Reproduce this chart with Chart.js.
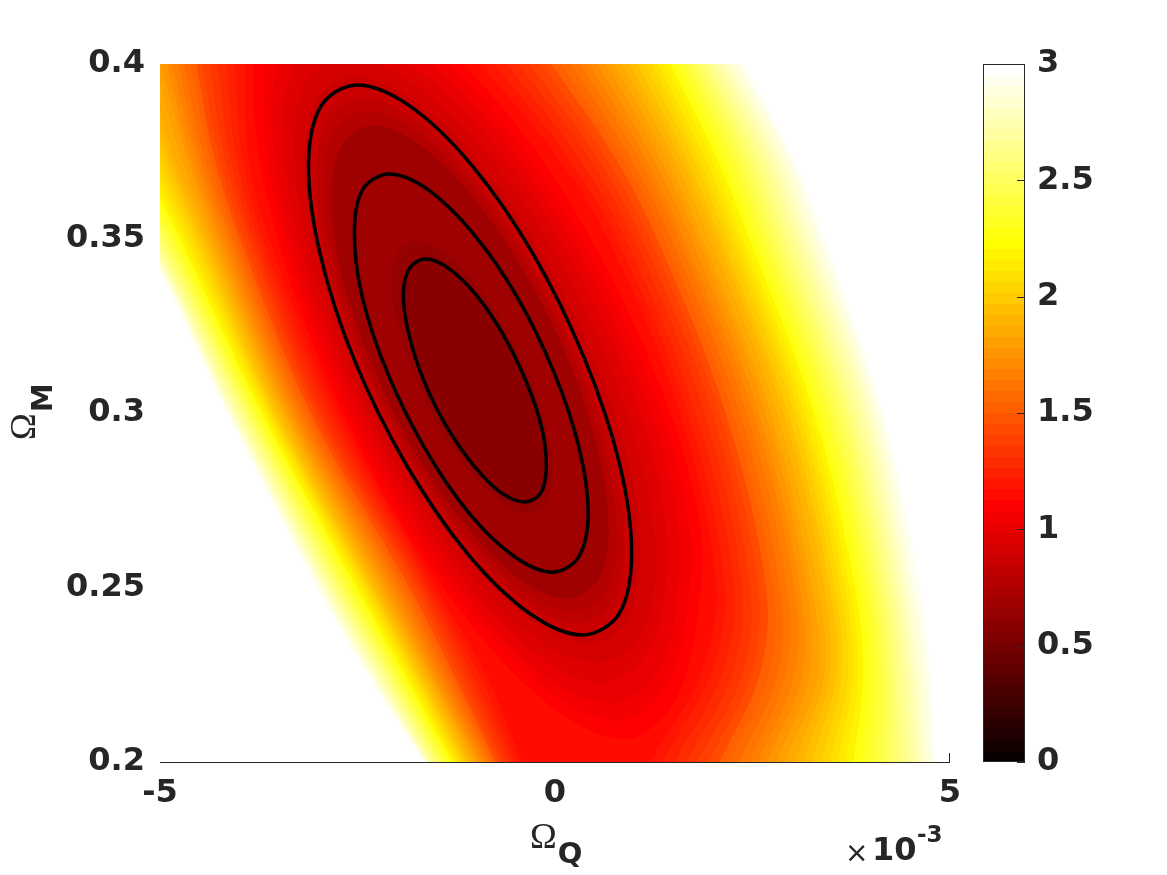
<!DOCTYPE html>
<html>
<head>
<meta charset="utf-8">
<script src="https://cdn.jsdelivr.net/npm/chart.js@4.4.1/dist/chart.umd.min.js"></script>
<style>
  body { margin: 0; background: #fff; }
  #wrap { position: relative; width: 1167px; height: 875px; }
  canvas { position: absolute; top: 0; }
</style>
</head>
<body>
<div id="wrap">
  <canvas id="main" width="1167" height="875" style="left:0"></canvas>
  <canvas id="cbar" width="207" height="875" style="left:960px"></canvas>
</div>
<script>
/* ---------- ticks ---------- */
const xTicks = [-5, 0, 5];               // Omega_Q in units of 1e-3
const yTicks = [0.2, 0.25, 0.3, 0.35, 0.4];
const yTickLabels = ['0.2', '0.25', '0.3', '0.35', '0.4'];
const cbarTicks = [0, 0.5, 1, 1.5, 2, 2.5, 3];
const cbarLabels = ['0', '0.5', '1', '1.5', '2', '2.5', '3'];

/* ---------- filled contours, levels every 0.05 ---------- */
// closed level curves round the minimum, [OmegaQ (1e-3), OmegaM]
const ring065 = [[-0.38,0.2746],[-0.19,0.2773],[-0.11,0.2848],[-0.18,0.2961],[-0.37,0.3093],[-0.66,0.3226],[-1.00,0.3338],[-1.35,0.3414],
  [-1.64,0.3440],[-1.84,0.3414],[-1.91,0.3338],[-1.85,0.3226],[-1.66,0.3093],[-1.37,0.2961],[-1.02,0.2848],[-0.68,0.2773]];
const ring070 = [[-0.34,0.2713],[-0.12,0.2743],[-0.04,0.2827],[-0.11,0.2954],[-0.33,0.3103],[-0.65,0.3252],[-1.04,0.3379],[-1.43,0.3464],
  [-1.76,0.3493],[-1.98,0.3464],[-2.06,0.3379],[-1.99,0.3252],[-1.77,0.3103],[-1.45,0.2954],[-1.06,0.2827],[-0.67,0.2743]];
const ring075 = [[0.15,0.2468],[0.54,0.2520],[0.68,0.2667],[0.55,0.2887],[0.18,0.3146],[-0.39,0.3405],[-1.06,0.3625],[-1.73,0.3772],
  [-2.31,0.3824],[-2.69,0.3772],[-2.83,0.3625],[-2.71,0.3405],[-2.33,0.3146],[-1.77,0.2887],[-1.09,0.2667],[-0.42,0.2520]];
const ring080 = [[0.23,0.2432],[0.64,0.2486],[0.78,0.2642],[0.65,0.2875],[0.25,0.3149],[-0.35,0.3423],[-1.06,0.3656],[-1.77,0.3812],
  [-2.38,0.3866],[-2.79,0.3812],[-2.94,0.3656],[-2.80,0.3423],[-2.41,0.3149],[-1.81,0.2875],[-1.10,0.2642],[-0.38,0.2486]];
const ring085 = [[0.29,0.2398],[0.72,0.2455],[0.88,0.2618],[0.73,0.2863],[0.32,0.3150],[-0.31,0.3438],[-1.06,0.3683],[-1.80,0.3846],
  [-2.44,0.3903],[-2.87,0.3846],[-3.03,0.3683],[-2.89,0.3438],[-2.47,0.3150],[-1.84,0.2863],[-1.10,0.2618],[-0.35,0.2455]];
const ring090 = [[0.40,0.2340],[0.88,0.2397],[1.08,0.2564],[0.96,0.2829],[0.50,0.3152],[-0.22,0.3475],[-1.05,0.3740],[-1.87,0.3907],
  [-2.55,0.3964],[-3.01,0.3901],[-3.17,0.3723],[-3.01,0.3460],[-2.57,0.3152],[-1.90,0.2844],[-1.10,0.2581],[-0.29,0.2403]];
const ring095 = [[0.50,0.2285],[1.02,0.2341],[1.26,0.2514],[1.16,0.2797],[0.66,0.3152],[-0.13,0.3507],[-1.05,0.3790],[-1.92,0.3962],
  [-2.65,0.4019],[-3.14,0.3951],[-3.30,0.3759],[-3.13,0.3478],[-2.65,0.3152],[-1.94,0.2825],[-1.10,0.2544],[-0.24,0.2353]];
const ring100 = [[0.60,0.2226],[1.13,0.2300],[1.39,0.2480],[1.35,0.2766],[0.82,0.3152],[-0.05,0.3538],[-1.05,0.3842],[-1.99,0.4021],
  [-2.76,0.4078],[-3.28,0.4004],[-3.44,0.3797],[-3.25,0.3497],[-2.74,0.3152],[-1.99,0.2807],[-1.10,0.2507],[-0.18,0.2300]];
const ring105 = [[0.71,0.2167],[1.26,0.2249],[1.53,0.2441],[1.52,0.2739],[0.95,0.3152],[0.02,0.3565],[-1.05,0.3888],[-2.04,0.4077],
  [-2.86,0.4137],[-3.41,0.4057],[-3.58,0.3835],[-3.37,0.3516],[-2.83,0.3152],[-2.04,0.2788],[-1.10,0.2469],[-0.13,0.2247]];
const ring110 = [[0.81,0.2116],[1.37,0.2205],[1.66,0.2405],[1.68,0.2713],[1.09,0.3152],[0.09,0.3591],[-1.05,0.3931],[-2.10,0.4127],
  [-2.96,0.4188],[-3.53,0.4103],[-3.70,0.3868],[-3.47,0.3533],[-2.91,0.3152],[-2.09,0.2771],[-1.10,0.2436],[-0.08,0.2201]];
const ring115 = [[0.90,0.2065],[1.48,0.2162],[1.78,0.2373],[1.83,0.2690],[1.20,0.3152],[0.16,0.3614],[-1.04,0.3971],[-2.15,0.4176],
  [-3.05,0.4239],[-3.65,0.4149],[-3.82,0.3900],[-3.57,0.3549],[-2.98,0.3152],[-2.13,0.2755],[-1.10,0.2404],[-0.03,0.2155]];
const ringLevels = [0.65, 0.7, 0.75, 0.8, 0.85, 0.9, 0.95, 1.0, 1.05, 1.1, 1.15];

// outer levels: where each level crosses rows of constant OmegaM (left and right branch)
const arcLevels = [1.2,1.25,1.3,1.35,1.4,1.45,1.5,1.55,1.6,1.65,1.7,1.75,1.8,1.85,1.9,1.95,2.0,2.05,2.1,2.15,
  2.2,2.25,2.3,2.35,2.4,2.45,2.5,2.55,2.6,2.65,2.7,2.75,2.8,2.85,2.9,2.95,3.0];
const arcRows = [0.4, 0.375, 0.35, 0.3, 0.25, 0.225, 0.2];
const leftAt040  = [-3.92,-4.05,-4.16,-4.27,-4.37,-4.46,-4.54,-4.62,-4.70,-4.77,-4.85,-4.91,-4.99,-5.06,-5.15,-5.24,-5.33,-5.43,-5.53,-5.63,
  -5.75,-5.85,-5.96,-6.08,-6.19,-6.30,-6.42,-6.53,-6.65,-6.76,-6.87,-6.99,-7.10,-7.22,-7.33,-7.44,-7.56];
const leftAt0375 = [-3.89,-3.97,-4.05,-4.13,-4.20,-4.27,-4.33,-4.39,-4.46,-4.52,-4.57,-4.63,-4.68,-4.76,-4.85,-4.91,-4.97,-5.04,-5.11,-5.18,
  -5.24,-5.30,-5.37,-5.43,-5.51,-5.57,-5.63,-5.70,-5.76,-5.82,-5.89,-5.96,-6.03,-6.09,-6.15,-6.22,-6.28];
const leftAt035  = [-3.62,-3.70,-3.76,-3.82,-3.87,-3.94,-3.99,-4.04,-4.09,-4.14,-4.19,-4.24,-4.29,-4.34,-4.39,-4.44,-4.49,-4.54,-4.59,-4.65,
  -4.70,-4.75,-4.78,-4.84,-4.87,-4.91,-4.95,-4.99,-5.03,-5.06,-5.09,-5.13,-5.15,-5.18,-5.20,-5.23,-5.25];
const leftAt030  = [-2.75,-2.81,-2.87,-2.94,-2.99,-3.04,-3.09,-3.14,-3.19,-3.24,-3.28,-3.33,-3.37,-3.41,-3.44,-3.49,-3.53,-3.57,-3.59,-3.63,
  -3.67,-3.71,-3.73,-3.77,-3.81,-3.84,-3.87,-3.90,-3.92,-3.96,-3.99,-4.03,-4.05,-4.08,-4.10,-4.13,-4.15];
const leftAt025  = [-1.51,-1.57,-1.62,-1.67,-1.72,-1.77,-1.84,-1.89,-1.94,-1.99,-2.04,-2.09,-2.14,-2.19,-2.23,-2.28,-2.32,-2.35,-2.39,-2.43,
  -2.47,-2.51,-2.54,-2.58,-2.62,-2.66,-2.70,-2.72,-2.76,-2.80,-2.82,-2.86,-2.89,-2.92,-2.95,-2.99,-3.01];
const leftAt0225 = [-0.87,-0.96,-1.04,-1.10,-1.16,-1.23,-1.28,-1.33,-1.38,-1.43,-1.47,-1.52,-1.56,-1.59,-1.63,-1.67,-1.71,-1.75,-1.78,-1.82,
  -1.86,-1.90,-1.94,-1.96,-2.00,-2.03,-2.06,-2.09,-2.13,-2.15,-2.19,-2.22,-2.25,-2.28,-2.32,-2.34,-2.38];
const leftAt020  = [-0.42,-0.48,-0.54,-0.59,-0.65,-0.70,-0.75,-0.78,-0.82,-0.86,-0.90,-0.94,-0.97,-1.01,-1.05,-1.09,-1.13,-1.16,-1.20,-1.24,
  -1.27,-1.30,-1.33,-1.37,-1.39,-1.43,-1.46,-1.48,-1.51,-1.53,-1.56,-1.58,-1.61,-1.62,-1.63,-1.65,-1.66];
const rightAt040  = [-0.95,-0.77,-0.61,-0.46,-0.32,-0.18,-0.05,0.08,0.20,0.32,0.43,0.54,0.65,0.75,0.85,0.95,1.04,1.13,1.22,1.30,
  1.38,1.46,1.53,1.59,1.66,1.72,1.77,1.84,1.89,1.94,2.00,2.06,2.13,2.19,2.25,2.32,2.38];
const rightAt0375 = [-0.03,0.11,0.24,0.37,0.48,0.59,0.71,0.81,0.91,1.01,1.10,1.19,1.28,1.37,1.46,1.54,1.62,1.71,1.78,1.86,
  1.94,2.01,2.08,2.15,2.22,2.29,2.35,2.42,2.48,2.54,2.61,2.67,2.73,2.80,2.86,2.92,2.97];
const rightAt035  = [0.67,0.78,0.89,1.00,1.10,1.20,1.29,1.38,1.47,1.56,1.63,1.72,1.80,1.87,1.96,2.04,2.10,2.18,2.25,2.32,
  2.38,2.46,2.52,2.58,2.65,2.71,2.77,2.84,2.90,2.96,3.03,3.09,3.15,3.22,3.28,3.34,3.41];
const rightAt030  = [1.58,1.68,1.78,1.89,1.99,2.08,2.16,2.25,2.34,2.43,2.51,2.58,2.66,2.73,2.81,2.89,2.95,3.03,3.09,3.15,
  3.22,3.28,3.34,3.41,3.47,3.53,3.59,3.66,3.71,3.77,3.82,3.89,3.94,4.00,4.05,4.10,4.15];
const rightAt025  = [2.04,2.15,2.27,2.37,2.47,2.57,2.67,2.76,2.85,2.94,3.03,3.10,3.18,3.25,3.33,3.41,3.48,3.54,3.61,3.67,
  3.73,3.80,3.86,3.92,3.97,4.03,4.08,4.13,4.18,4.23,4.28,4.33,4.38,4.43,4.48,4.54,4.62];
const rightAt0225 = [1.84,1.97,2.11,2.24,2.37,2.48,2.59,2.71,2.82,2.92,3.03,3.13,3.22,3.33,3.41,3.48,3.56,3.63,3.71,3.77,
  3.84,3.90,3.96,4.03,4.09,4.15,4.20,4.25,4.30,4.35,4.41,4.47,4.52,4.57,4.63,4.70,4.75];
const rightAt020  = [1.20,1.35,1.51,1.66,1.80,1.94,2.08,2.20,2.33,2.46,2.57,2.68,2.80,2.91,3.03,3.14,3.25,3.37,3.48,3.58,
  3.68,3.78,3.87,3.96,4.05,4.13,4.20,4.28,4.35,4.42,4.48,4.54,4.61,4.66,4.71,4.76,4.81];

/* ---------- black confidence contours ---------- */
const contourInner = [[-0.38,0.2745],[-0.18,0.2771],[-0.11,0.2847],[-0.17,0.2960],[-0.37,0.3093],[-0.66,0.3226],[-1.00,0.3339],[-1.35,0.3415],
  [-1.64,0.3441],[-1.84,0.3415],[-1.92,0.3339],[-1.85,0.3226],[-1.66,0.3093],[-1.37,0.2960],[-1.02,0.2847],[-0.68,0.2771]];
const contourMid = [[-0.03,0.2544],[0.30,0.2588],[0.42,0.2711],[0.31,0.2896],[-0.01,0.3115],[-0.48,0.3333],[-1.05,0.3518],[-1.62,0.3642],
  [-2.10,0.3685],[-2.43,0.3642],[-2.54,0.3518],[-2.44,0.3333],[-2.12,0.3115],[-1.64,0.2896],[-1.08,0.2711],[-0.51,0.2588]];
const contourOuter = [[0.35,0.2364],[0.81,0.2424],[0.97,0.2595],[0.82,0.2851],[0.38,0.3152],[-0.27,0.3453],[-1.05,0.3709],[-1.84,0.3880],
  [-2.51,0.3940],[-2.96,0.3880],[-3.12,0.3709],[-2.97,0.3453],[-2.54,0.3152],[-1.88,0.2851],[-1.10,0.2595],[-0.31,0.2424]];

const xTitle = ['\u03A9', 'Q'];
const yTitle = ['\u03A9', 'M'];
const xExponent = ['\u00D7', '10', '-3'];

/* ---------- helpers ---------- */
const INK = '#262626';
Chart.defaults.font.family = '"DejaVu Sans", sans-serif';

// MATLAB hot(64) on [0, 3]
function hotColour(v) {
  const m = 64, n = 24;
  const k = Math.min(m, Math.floor(v / 3 * m + 1e-9) + 1);
  let r, g, b;
  if (k <= n) { r = k / n; g = 0; b = 0; }
  else if (k <= 2 * n) { r = 1; g = (k - n) / n; b = 0; }
  else { r = 1; g = 1; b = (k - 2 * n) / (m - 2 * n); }
  return `rgb(${Math.round(r * 255)},${Math.round(g * 255)},${Math.round(b * 255)})`;
}
// a band between level L-0.05 and L takes the colour of its lower level
const bandColour = lv => hotColour(Math.round((lv - 0.05) * 100) / 100);
const pts = arr => arr.map(([x, y]) => ({x, y}));
// closed curve: run round once more over the first points so the spline joins smoothly
const loop = arr => { const p = pts(arr); return p.concat([p[0], p[1], p[2]]); };

const leftRows = [leftAt040, leftAt0375, leftAt035, leftAt030, leftAt025, leftAt0225, leftAt020];
const rightRows = [rightAt040, rightAt0375, rightAt035, rightAt030, rightAt025, rightAt0225, rightAt020];

// shape of one outer level; it is closed well outside the axes (above and below)
const carry = (a, b) => a + (a - b) * 0.8;
function arcRing(i) {
  const left = arcRows.map((y, r) => ({x: leftRows[r][i], y}));
  const right = arcRows.map((y, r) => ({x: rightRows[r][i], y})).reverse();
  const n = left.length;
  return [
    {x: carry(left[0].x, left[1].x), y: 0.42}, ...left,
    {x: carry(left[n - 1].x, left[n - 2].x), y: 0.18},
    {x: carry(right[0].x, right[1].x), y: 0.18}, ...right,
    {x: carry(right[n - 1].x, right[n - 2].x), y: 0.42}
  ];
}

function contourSet(arr) {
  const data = loop(arr);
  const last = data.length - 2;
  return {
    data,
    borderColor: '#000',
    borderWidth: 3.5,
    tension: 0.34,
    pointRadius: 0,
    segment: {
      borderColor: c => (c.p0DataIndex === 0 || c.p0DataIndex === last ? 'rgba(0,0,0,0)' : undefined)
    }
  };
}
const bandSet = (data, lv, tension) => ({
  data, bandColor: bandColour(lv), borderWidth: 0, pointRadius: 0, tension
});

const innerRings = [ring065, ring070, ring075, ring080, ring085, ring090, ring095, ring100, ring105, ring110, ring115];
const datasets = [contourSet(contourInner), contourSet(contourMid), contourSet(contourOuter)];
innerRings.forEach((r, i) => datasets.push(bandSet(loop(r), ringLevels[i], 0.34)));
arcLevels.forEach((lv, i) => datasets.push(bandSet(arcRing(i), lv, 0.35)));

/* ---------- plugins ---------- */
const bandFill = {
  id: 'bandFill',
  beforeDatasetDraw(chart, args) {
    const ds = chart.data.datasets[args.index];
    if (!ds.bandColor) return;
    const line = args.meta.dataset;
    const a = chart.chartArea;
    const ctx = chart.ctx;
    if (typeof line.updateControlPoints === 'function') line.updateControlPoints(a, 'x');
    ctx.save();
    ctx.beginPath();
    ctx.rect(a.left, a.top, a.right - a.left, a.bottom - a.top);
    ctx.clip();
    ctx.beginPath();
    if (typeof line.path === 'function') {
      line.path(ctx);
    } else {
      args.meta.data.forEach((p, i) => (i ? ctx.lineTo(p.x, p.y) : ctx.moveTo(p.x, p.y)));
    }
    ctx.closePath();
    ctx.fillStyle = ds.bandColor;
    ctx.fill();
    ctx.restore();
  }
};

const axisDecor = {
  id: 'axisDecor',
  afterDraw(chart) {
    const {ctx, chartArea: a} = chart;
    const xs = chart.scales.x;
    ctx.save();
    ctx.strokeStyle = INK;
    ctx.lineWidth = 1;
    ctx.beginPath();
    ctx.moveTo(a.left, a.bottom + 0.5);
    ctx.lineTo(a.right, a.bottom + 0.5);
    const xr = Math.round(xs.getPixelForValue(xTicks[xTicks.length - 1])) - 0.5;
    ctx.moveTo(xr, a.bottom);
    ctx.lineTo(xr, a.bottom - 9);
    ctx.stroke();

    ctx.fillStyle = INK;
    ctx.textAlign = 'left';
    ctx.textBaseline = 'alphabetic';
    // x title
    ctx.font = '36px "Liberation Serif"';
    ctx.fillText(xTitle[0], 530, 848);
    const wq = ctx.measureText(xTitle[0]).width;
    ctx.font = 'bold 29px "DejaVu Sans"';
    ctx.fillText(xTitle[1], 530 + wq + 1, 863);
    // y title, rotated
    ctx.save();
    ctx.translate(35, 440);
    ctx.rotate(-Math.PI / 2);
    ctx.font = '36px "Liberation Serif"';
    ctx.fillText(yTitle[0], 0, 0);
    const wm = ctx.measureText(yTitle[0]).width;
    ctx.font = 'bold 29px "DejaVu Sans"';
    ctx.fillText(yTitle[1], wm + 1, 17);
    ctx.restore();
    // x10^-3
    ctx.font = '28px "DejaVu Sans"';
    ctx.fillText(xExponent[0], 845, 862);
    ctx.font = 'bold 32px "DejaVu Sans"';
    ctx.fillText(xExponent[1], 872, 860);
    ctx.font = 'bold 23px "DejaVu Sans"';
    ctx.fillText(xExponent[2], 917, 842);
    ctx.restore();
  }
};

const tickFont = {size: 32, weight: 'bold'};

new Chart(document.getElementById('main'), {
  type: 'line',
  data: { datasets },
  options: {
    responsive: false,
    animation: false,
    events: [],
    layout: { padding: { left: 0, top: 64, right: 217, bottom: 0 } },
    plugins: { legend: { display: false }, tooltip: { enabled: false } },
    elements: { point: { radius: 0 }, line: { capBezierPoints: false } },
    scales: {
      x: {
        type: 'linear', min: -5, max: 5,
        afterBuildTicks: s => { s.ticks = xTicks.map(v => ({value: v})); },
        afterFit: s => { s.height = 113; },
        grid: { display: false, drawTicks: false },
        border: { display: false },
        ticks: { font: tickFont, color: INK, padding: 12, maxRotation: 0, autoSkip: false,
                 callback: v => String(v) }
      },
      y: {
        type: 'linear', min: 0.2, max: 0.4,
        afterBuildTicks: s => { s.ticks = yTicks.map(v => ({value: v})); },
        afterFit: s => { s.width = 160; },
        grid: { display: false, drawTicks: false },
        border: { display: false },
        ticks: { font: tickFont, color: INK, padding: 15, autoSkip: false,
                 callback: (v, i) => yTickLabels[i] }
      }
    }
  },
  plugins: [bandFill, axisDecor]
});

/* ---------- colour bar ---------- */
function cbarGradient(chart) {
  const a = chart.chartArea;
  if (!a) return hotColour(1.5);
  const g = chart.ctx.createLinearGradient(0, a.bottom, 0, a.top);
  for (let k = 0; k < 64; k++) {
    const c = hotColour((k + 0.5) / 64 * 3);
    g.addColorStop(k / 64, c);
    g.addColorStop(Math.min(1, (k + 1) / 64 - 0.0001), c);
  }
  return g;
}

const cbarFrame = {
  id: 'cbarFrame',
  afterDraw(chart) {
    const {ctx, chartArea: a} = chart;
    const ys = chart.scales.y;
    ctx.save();
    ctx.strokeStyle = INK;
    ctx.lineWidth = 1;
    ctx.strokeRect(a.left + 0.5, a.top + 0.5, a.right - a.left - 1, a.bottom - a.top - 1);
    ctx.beginPath();
    cbarTicks.forEach(v => {
      const y = Math.round(ys.getPixelForValue(v)) + 0.5;
      ctx.moveTo(a.right - 8, y);
      ctx.lineTo(a.right, y);
    });
    ctx.stroke();
    ctx.restore();
  }
};

new Chart(document.getElementById('cbar'), {
  type: 'bar',
  data: {
    labels: [''],
    datasets: [{
      data: [[cbarTicks[0], cbarTicks[cbarTicks.length - 1]]],
      backgroundColor: c => cbarGradient(c.chart),
      borderWidth: 0,
      barPercentage: 1,
      categoryPercentage: 1
    }]
  },
  options: {
    responsive: false,
    animation: false,
    events: [],
    layout: { padding: { left: 23, top: 64, right: 0, bottom: 113 } },
    plugins: { legend: { display: false }, tooltip: { enabled: false } },
    scales: {
      x: { display: false },
      y: {
        position: 'right', min: 0, max: 3,
        afterBuildTicks: s => { s.ticks = cbarTicks.map(v => ({value: v})); },
        afterFit: s => { s.width = 142; },
        grid: { display: false, drawTicks: false },
        border: { display: false },
        ticks: { font: tickFont, color: INK, padding: 12, autoSkip: false,
                 callback: (v, i) => cbarLabels[i] }
      }
    }
  },
  plugins: [cbarFrame]
});
</script>
</body>
</html>
